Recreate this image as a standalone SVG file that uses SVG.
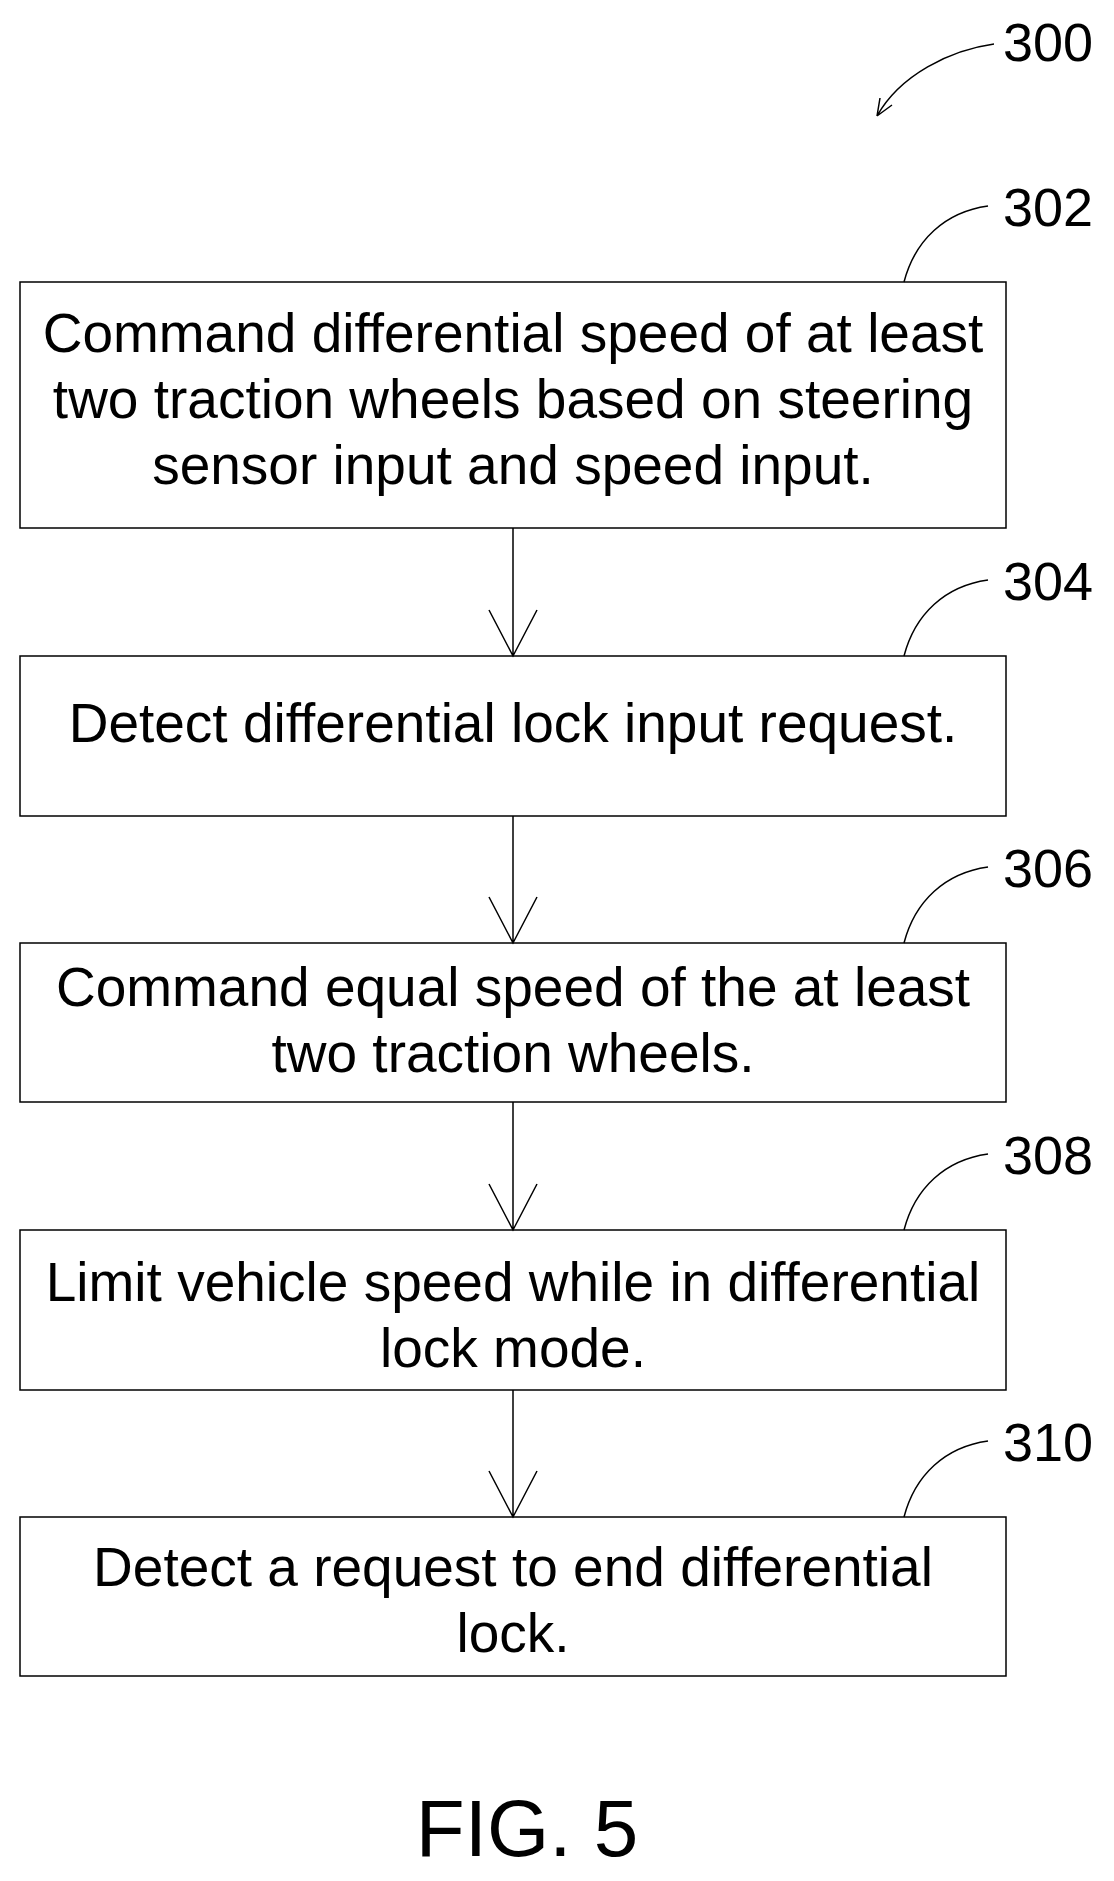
<svg xmlns="http://www.w3.org/2000/svg" width="1114" height="1881" viewBox="0 0 1114 1881">
<style>
.b{fill:#fff;stroke:#000;stroke-width:1.5}
.t{font-family:"Liberation Sans",Arial,sans-serif;font-size:55px;text-anchor:middle;fill:#000}
.l{font-family:"Liberation Sans",Arial,sans-serif;font-size:54px;fill:#000}
.c{fill:none;stroke:#000;stroke-width:1.5}
</style>
<rect width="1114" height="1881" fill="#fff"/>
<g id="ref300"><text class="l" x="1003" y="61">300</text><path class="c" d="M994,44 C950,50 900,75 877,116 M877,116 L880,98 M877,116 L892,105"/></g>
<g id="n302"><rect class="b" x="20" y="282" width="986" height="246"/>
<text class="t" x="513" y="352">Command differential speed of at least</text>
<text class="t" x="513" y="418">two traction wheels based on steering</text>
<text class="t" x="513" y="484">sensor input and speed input.</text>
<text class="l" x="1003" y="226">302</text><path class="c" d="M904,282 C915,240 945,212 988,206"/></g>
<g id="n304"><rect class="b" x="20" y="656" width="986" height="160"/>
<text class="t" x="513" y="742">Detect differential lock input request.</text>
<text class="l" x="1003" y="600">304</text><path class="c" d="M904,656 C915,614 945,586 988,580"/></g>
<g id="n306"><rect class="b" x="20" y="943" width="986" height="159"/>
<text class="t" x="513" y="1006">Command equal speed of the at least</text>
<text class="t" x="513" y="1072">two traction wheels.</text>
<text class="l" x="1003" y="887">306</text><path class="c" d="M904,943 C915,901 945,873 988,867"/></g>
<g id="n308"><rect class="b" x="20" y="1230" width="986" height="160"/>
<text class="t" x="513" y="1301">Limit vehicle speed while in differential</text>
<text class="t" x="513" y="1367">lock mode.</text>
<text class="l" x="1003" y="1174">308</text><path class="c" d="M904,1230 C915,1188 945,1160 988,1154"/></g>
<g id="n310"><rect class="b" x="20" y="1517" width="986" height="159"/>
<text class="t" x="513" y="1586">Detect a request to end differential</text>
<text class="t" x="513" y="1652">lock.</text>
<text class="l" x="1003" y="1461">310</text><path class="c" d="M904,1517 C915,1475 945,1447 988,1441"/></g>
<g id="connectors">
<path class="c" d="M513,528 V656 M489,610 L513,656 L537,610"/>
<path class="c" d="M513,816 V943 M489,897 L513,943 L537,897"/>
<path class="c" d="M513,1102 V1230 M489,1184 L513,1230 L537,1184"/>
<path class="c" d="M513,1390 V1517 M489,1471 L513,1517 L537,1471"/>
</g>
<text class="t" x="527" y="1856" style="font-size:80px">FIG. 5</text>
</svg>
